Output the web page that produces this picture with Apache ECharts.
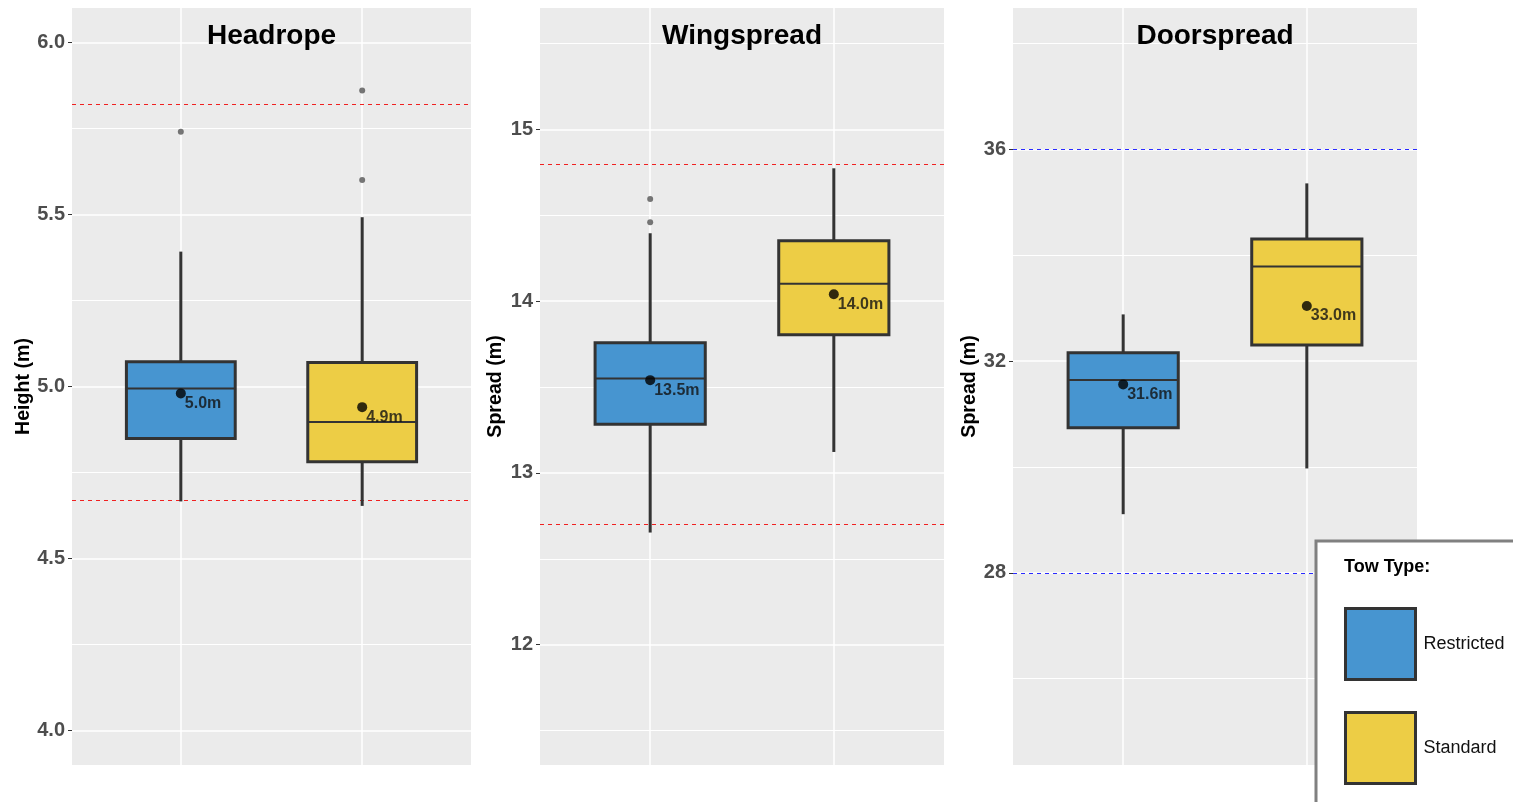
<!DOCTYPE html>
<html>
<head>
<meta charset="utf-8">
<title>Trawl geometry by tow type</title>
<script src="https://cdn.jsdelivr.net/npm/echarts@6/dist/echarts.min.js"></script>
<style>
  html, body { margin: 0; padding: 0; background: #ffffff; }
  #chart { width: 1513px; height: 802px; }
</style>
</head>
<body>
<div id="chart"></div>
<script>
// ---- data ----
const panels = ['Headrope', 'Wingspread', 'Doorspread'];
const towTypes = ['Restricted', 'Standard'];
const axisTitles = ['Height (m)', 'Spread (m)', 'Spread (m)'];

// box statistics: [lower whisker, Q1, median, Q3, upper whisker]
const headropeRestricted = [4.666, 4.849, 4.994, 5.072, 5.392];
const headropeStandard   = [4.653, 4.781, 4.897, 5.070, 5.492];
const wingspreadRestricted = [12.653, 13.284, 13.549, 13.758, 14.395];
const wingspreadStandard   = [13.122, 13.804, 14.101, 14.352, 14.773];
const doorspreadRestricted = [29.108, 30.739, 31.641, 32.157, 32.882];
const doorspreadStandard   = [29.972, 32.302, 33.788, 34.304, 35.357];

// means (Restricted, Standard)
const headropeMeans   = [4.98, 4.94];
const wingspreadMeans = [13.54, 14.04];
const doorspreadMeans = [31.56, 33.04];

// outliers per tow type
const headropeOutliersRestricted = [5.74];
const headropeOutliersStandard   = [5.86, 5.60];
const wingspreadOutliersRestricted = [14.595, 14.459];
const wingspreadOutliersStandard   = [];
const doorspreadOutliersRestricted = [];
const doorspreadOutliersStandard   = [];

// target limits (dashed reference lines)
const headropeLimits   = [4.67, 5.82];
const wingspreadLimits = [12.7, 14.8];
const doorspreadLimits = [28, 36];

// y-axis ranges and tick values
const headropeRange   = [3.9, 6.1];
const wingspreadRange = [11.3, 15.706];
const doorspreadRange = [24.37, 38.67];
const headropeTicks   = [4.0, 4.5, 5.0, 5.5, 6.0];
const wingspreadTicks = [12, 13, 14, 15];
const doorspreadTicks = [28, 32, 36];
const headropeMinor   = [4.25, 4.75, 5.25, 5.75];
const wingspreadMinor = [11.5, 12.5, 13.5, 14.5, 15.5];
const doorspreadMinor = [26, 30, 34, 38];

// ---- styling ----
const FONT = "'Liberation Sans', Arial, sans-serif";
const FILLS = ['#4795d0', '#edcd45'];
const EDGE = '#333333';
const BOX_WIDTH = 0.6;
const gridBoxes = [
  { left: 72,   top: 8, width: 399, height: 757 },
  { left: 540,  top: 8, width: 404, height: 757 },
  { left: 1013, top: 8, width: 404, height: 757 }
];
const nameGaps = [35, 34, 33];
const tickDecimals = [1, 0, 0];
const limitColors = ['#f02020', '#f02020', '#2a2aff'];

const panelData = [
  { boxes: [headropeRestricted, headropeStandard], means: headropeMeans,
    outliers: [headropeOutliersRestricted, headropeOutliersStandard],
    limits: headropeLimits, range: headropeRange, ticks: headropeTicks, minor: headropeMinor },
  { boxes: [wingspreadRestricted, wingspreadStandard], means: wingspreadMeans,
    outliers: [wingspreadOutliersRestricted, wingspreadOutliersStandard],
    limits: wingspreadLimits, range: wingspreadRange, ticks: wingspreadTicks, minor: wingspreadMinor },
  { boxes: [doorspreadRestricted, doorspreadStandard], means: doorspreadMeans,
    outliers: [doorspreadOutliersRestricted, doorspreadOutliersStandard],
    limits: doorspreadLimits, range: doorspreadRange, ticks: doorspreadTicks, minor: doorspreadMinor }
];

// draws one box-and-whisker from [x, lo, q1, med, q3, hi]
function renderBox(params, api) {
  const x = api.value(0);
  const lo = api.coord([x, api.value(1)]);
  const q1 = api.coord([x, api.value(2)]);
  const md = api.coord([x, api.value(3)]);
  const q3 = api.coord([x, api.value(4)]);
  const hi = api.coord([x, api.value(5)]);
  const half = api.size([BOX_WIDTH, 0])[0] / 2;
  const cx = lo[0];
  const fill = api.visual('color');
  return {
    type: 'group',
    children: [
      { type: 'line', shape: { x1: cx, y1: lo[1], x2: cx, y2: q1[1] },
        style: { stroke: EDGE, lineWidth: 3 } },
      { type: 'line', shape: { x1: cx, y1: q3[1], x2: cx, y2: hi[1] },
        style: { stroke: EDGE, lineWidth: 3 } },
      { type: 'rect', shape: { x: cx - half, y: q3[1], width: half * 2, height: q1[1] - q3[1] },
        style: { fill: fill, stroke: EDGE, lineWidth: 3 } },
      { type: 'line', shape: { x1: cx - half, y1: md[1], x2: cx + half, y2: md[1] },
        style: { stroke: EDGE, lineWidth: 2 } }
    ]
  };
}

// horizontal dashed limit line spanning the panel
function makeLimitRenderer(color) {
  return function (params, api) {
    const cs = params.coordSys;
    const y = Math.round(api.coord([1, api.value(0)])[1]) + 0.5;
    return {
      type: 'line',
      shape: { x1: cs.x, y1: y, x2: cs.x + cs.width, y2: y },
      style: { stroke: color, lineWidth: 1, lineDash: [4, 4] }
    };
  };
}

const grid = [], xAxis = [], yAxis = [], series = [], title = [];

panelData.forEach((p, i) => {
  grid.push(Object.assign({ show: true, backgroundColor: '#ebebeb', borderWidth: 0 }, gridBoxes[i]));

  title.push({
    text: panels[i],
    left: gridBoxes[i].left + gridBoxes[i].width / 2,
    top: 22,
    textAlign: 'center',
    padding: 0,
    textStyle: { fontFamily: FONT, fontSize: 28, fontWeight: 'bold', color: '#000000' }
  });

  xAxis.push({
    type: 'value', gridIndex: i, min: 0.4, max: 2.6,
    axisLine: { show: false },
    axisTick: { show: false, customValues: [1, 2] },
    axisLabel: { show: false },
    splitLine: { show: true, lineStyle: { color: '#ffffff', width: 1.5 } }
  });

  // main y axis: labels, ticks and major grid
  yAxis.push({
    type: 'value', gridIndex: i, min: p.range[0], max: p.range[1],
    name: axisTitles[i], nameLocation: 'middle', nameRotate: 90, nameGap: nameGaps[i],
    nameTextStyle: { fontFamily: FONT, fontSize: 19.6, fontWeight: 'bold', color: '#000000' },
    axisLine: { show: false },
    axisTick: { show: true, length: 4, customValues: p.ticks, lineStyle: { color: '#333333', width: 1 } },
    axisLabel: {
      show: true, margin: 7, customValues: p.ticks,
      fontFamily: FONT, fontSize: 20, fontWeight: 'bold', color: '#4d4d4d',
      formatter: v => Number(v).toFixed(tickDecimals[i])
    },
    splitLine: { show: true, lineStyle: { color: '#ffffff', width: 1.5 } }
  });
  // companion y axis: minor grid only
  yAxis.push({
    type: 'value', gridIndex: i, min: p.range[0], max: p.range[1],
    axisLine: { show: false },
    axisTick: { show: false, customValues: p.minor },
    axisLabel: { show: false },
    splitLine: { show: true, lineStyle: { color: '#ffffff', width: 1 } }
  });

  const yIdx = i * 2;

  // reference limits
  series.push({
    type: 'custom', xAxisIndex: i, yAxisIndex: yIdx, silent: true,
    renderItem: makeLimitRenderer(limitColors[i]),
    encode: { y: 0 },
    data: p.limits.map(v => [v]),
    z: 1
  });

  towTypes.forEach((t, k) => {
    series.push({
      name: t, type: 'custom', xAxisIndex: i, yAxisIndex: yIdx,
      itemStyle: { color: FILLS[k] },
      renderItem: renderBox,
      encode: { x: 0, y: [1, 2, 3, 4, 5] },
      data: [[k + 1].concat(p.boxes[k])],
      z: 2
    });
    series.push({
      type: 'scatter', xAxisIndex: i, yAxisIndex: yIdx, silent: true,
      symbolSize: 6, itemStyle: { color: '#555555' },
      data: p.outliers[k].map(v => [k + 1, v]), z: 3
    });
  });

  series.push({
    type: 'scatter', xAxisIndex: i, yAxisIndex: yIdx, silent: true,
    symbolSize: 10, itemStyle: { color: '#000000' },
    data: p.means.map((v, k) => [k + 1, v]),
    label: {
      show: true, position: [9, 7], align: 'left', verticalAlign: 'top',
      fontFamily: FONT, fontSize: 16, fontWeight: 'bold', color: '#111111',
      formatter: d => d.value[1].toFixed(1) + 'm'
    },
    z: 4
  });
});

title.push({
  text: 'Tow Type:', left: 1344, top: 558, padding: 0,
  textStyle: { fontFamily: FONT, fontSize: 18, fontWeight: 'bold', color: '#000000' }
});

const chart = echarts.init(document.getElementById('chart'), null, { renderer: 'canvas' });
chart.setOption({
  animation: false,
  backgroundColor: '#ffffff',
  title: title,
  grid: grid,
  xAxis: xAxis,
  yAxis: yAxis,
  legend: {
    orient: 'vertical', left: 1316, top: 541, height: 200,
    padding: [66, 10, 20, 28], itemWidth: 70, itemHeight: 71, itemGap: 30,
    backgroundColor: '#ffffff', borderColor: '#808080', borderWidth: 3,
    selectedMode: false,
    textStyle: { fontFamily: FONT, fontSize: 18, color: '#111111', padding: [0, 0, 0, 3] },
    data: towTypes.map((t, k) => ({
      name: t, icon: 'rect',
      itemStyle: { color: FILLS[k], borderColor: EDGE, borderWidth: 3 }
    }))
  },
  series: series
});
</script>
</body>
</html>
